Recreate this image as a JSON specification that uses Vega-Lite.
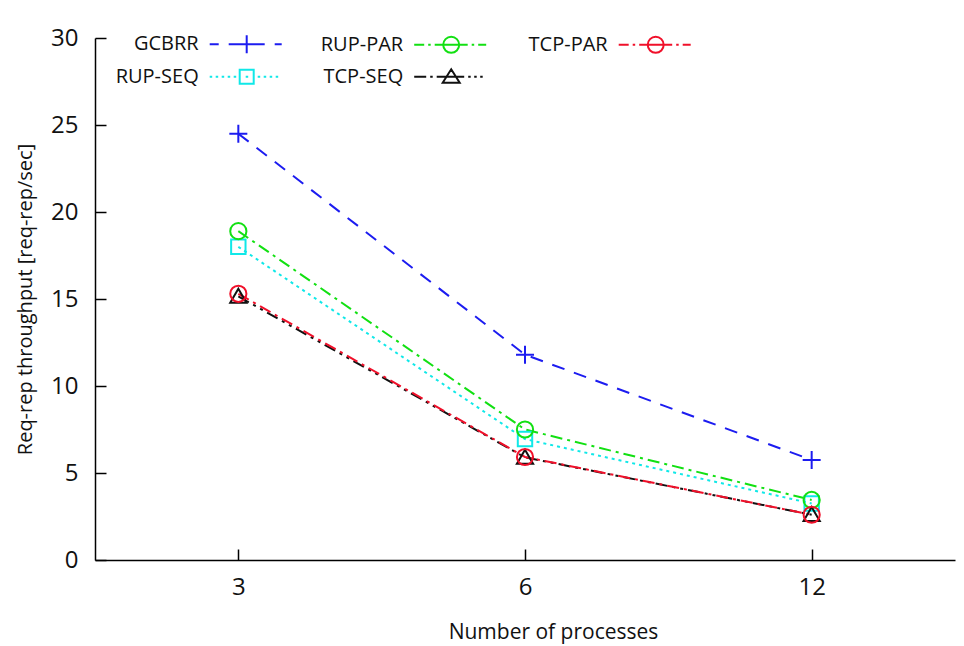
{
  "$schema": "https://vega.github.io/schema/vega-lite/v6.json",
  "width": 860,
  "height": 522,
  "autosize": {"type": "none"},
  "padding": {"left": 95, "top": 38, "right": 9, "bottom": 86},
  "background": "white",
  "config": {"view": {"stroke": null}, "font": "Open Sans"},
  "data": {
    "values": [
      {"series": "GCBRR", "procs": 3, "throughput": 24.5},
      {"series": "GCBRR", "procs": 6, "throughput": 11.8},
      {"series": "GCBRR", "procs": 12, "throughput": 5.75},
      {"series": "RUP-SEQ", "procs": 3, "throughput": 18.0},
      {"series": "RUP-SEQ", "procs": 6, "throughput": 6.95},
      {"series": "RUP-SEQ", "procs": 12, "throughput": 3.25},
      {"series": "RUP-PAR", "procs": 3, "throughput": 18.9},
      {"series": "RUP-PAR", "procs": 6, "throughput": 7.5},
      {"series": "RUP-PAR", "procs": 12, "throughput": 3.45},
      {"series": "TCP-SEQ", "procs": 3, "throughput": 15.15},
      {"series": "TCP-SEQ", "procs": 6, "throughput": 5.9},
      {"series": "TCP-SEQ", "procs": 12, "throughput": 2.6},
      {"series": "TCP-PAR", "procs": 3, "throughput": 15.3},
      {"series": "TCP-PAR", "procs": 6, "throughput": 5.92},
      {"series": "TCP-PAR", "procs": 12, "throughput": 2.6}
    ]
  },
  "encoding": {
    "x": {
      "field": "procs",
      "type": "ordinal",
      "sort": [3, 6, 12],
      "scale": {"type": "point", "padding": 0.5},
      "axis": {
        "title": "Number of processes",
        "labelAngle": 0,
        "labelFont": "Open Sans",
        "labelFontSize": 24,
        "labelColor": "#111111",
        "labelPadding": 26,
        "tickSize": -11,
        "tickColor": "#000000",
        "tickWidth": 1.5,
        "domainColor": "#000000",
        "domainWidth": 1.5,
        "grid": false,
        "titleFont": "Open Sans",
        "titleFontSize": 21,
        "titleFontWeight": "normal",
        "titleColor": "#111111",
        "titleX": 458,
        "titleY": 78,
        "titleAlign": "center",
        "titleBaseline": "alphabetic"
      }
    },
    "y": {
      "field": "throughput",
      "type": "quantitative",
      "scale": {"domain": [0, 30]},
      "axis": {
        "title": "Req-rep throughput [req-rep/sec]",
        "values": [0, 5, 10, 15, 20, 25, 30],
        "labelFont": "Open Sans",
        "labelFontSize": 24,
        "labelColor": "#111111",
        "labelPadding": 28,
        "tickSize": -11,
        "tickColor": "#000000",
        "tickWidth": 1.5,
        "domainColor": "#000000",
        "domainWidth": 1.5,
        "grid": false,
        "titleFont": "Open Sans",
        "titleFontSize": 20,
        "titleFontWeight": "normal",
        "titleColor": "#111111",
        "titleAngle": -90,
        "titleX": -64,
        "titleY": 261,
        "titleAlign": "center",
        "titleBaseline": "alphabetic"
      }
    }
  },
  "layer": [
    {
      "mark": {"type": "line", "strokeWidth": 2},
      "encoding": {
        "color": {
          "field": "series",
          "type": "nominal",
          "scale": {
            "domain": ["GCBRR", "RUP-SEQ", "RUP-PAR", "TCP-SEQ", "TCP-PAR"],
            "range": ["#1c1cf0", "#10e8e8", "#12e012", "#111111", "#f0102a"]
          },
          "legend": null
        },
        "strokeDash": {
          "field": "series",
          "type": "nominal",
          "scale": {
            "domain": ["GCBRR", "RUP-SEQ", "RUP-PAR", "TCP-SEQ", "TCP-PAR"],
            "range": [[13, 10], [3, 4], [12, 5, 3, 5], [12, 5, 3, 5, 3, 5], [12, 5, 3, 5]]
          },
          "legend": null
        }
      }
    },
    {
      "mark": {"type": "point", "filled": false, "strokeWidth": 2, "size": 324, "opacity": 1},
      "encoding": {
        "color": {
          "field": "series",
          "type": "nominal",
          "scale": {
            "domain": ["GCBRR", "RUP-SEQ", "RUP-PAR", "TCP-SEQ", "TCP-PAR"],
            "range": ["#1c1cf0", "#10e8e8", "#12e012", "#111111", "#f0102a"]
          },
          "legend": null
        },
        "shape": {
          "field": "series",
          "type": "nominal",
          "scale": {
            "domain": ["GCBRR", "RUP-SEQ", "RUP-PAR", "TCP-SEQ", "TCP-PAR"],
            "range": [
              "M-1,0H1M0,-1V1",
              "M-0.8,-0.8H0.8V0.8H-0.8Z",
              "M-0.9,0A0.9,0.9 0 1,0 0.9,0A0.9,0.9 0 1,0 -0.9,0Z",
              "M0,-0.85L0.9,0.7H-0.9Z",
              "M-0.9,0A0.9,0.9 0 1,0 0.9,0A0.9,0.9 0 1,0 -0.9,0Z"
            ]
          },
          "legend": null
        }
      }
    },
    {
      "mark": {"type": "point", "filled": false, "strokeWidth": 2, "opacity": 0},
      "encoding": {
        "color": {
          "field": "series",
          "type": "nominal",
          "scale": {
            "domain": ["GCBRR", "RUP-SEQ", "RUP-PAR", "TCP-SEQ", "TCP-PAR"],
            "range": ["#1c1cf0", "#10e8e8", "#12e012", "#111111", "#f0102a"]
          },
          "legend": {
            "title": null,
            "orient": "none",
            "legendX": 11.7,
            "legendY": -4.7,
            "padding": 0,
            "columns": 3,
            "columnPadding": 25.5,
            "rowPadding": 7.5,
            "gridAlign": "all",
            "symbolSize": 400,
            "symbolStrokeWidth": 2,
            "symbolOpacity": 1,
            "labelAlign": "right",
            "labelOffset": 70,
            "labelFont": "Open Sans",
            "labelFontSize": 20,
            "labelColor": "#111111",
            "labelLimit": 200
          }
        },
        "shape": {
          "field": "series",
          "type": "nominal",
          "scale": {
            "domain": ["GCBRR", "RUP-SEQ", "RUP-PAR", "TCP-SEQ", "TCP-PAR"],
            "range": [
              "M9.2,0H10.1M11.1,0H14.7M15.7,0H16.4M12.9,-0.9V0.9",
              "M9.2,0h0.25M9.8,0h0.25M10.4,0h0.25M11,0h0.25M11.6,0h0.25M12.2,-0.7H13.6V0.7H12.2ZM12.8,0h0.25M14,0h0.25M14.6,0h0.25M15.2,0h0.25M15.8,0h0.25",
              "M9.2,0H10.2M10.6,0H10.85M11.25,0H14.55M14.95,0H15.2M15.6,0H16.4M12.1,0A0.8,0.8 0 1,0 13.7,0A0.8,0.8 0 1,0 12.1,0Z",
              "M9.2,0H10.4M10.8,0H11.05M11.45,0H14.2M14.6,0h0.25M15.2,0h0.25M15.8,0h0.25M12.9,-0.75L13.75,0.6H12.05Z",
              "M9.2,0H10.2M10.6,0H10.85M11.25,0H14.55M14.95,0H15.2M15.6,0H16.4M12.1,0A0.8,0.8 0 1,0 13.7,0A0.8,0.8 0 1,0 12.1,0Z"
            ]
          },
          "legend": {
            "title": null,
            "orient": "none",
            "legendX": 11.7,
            "legendY": -4.7,
            "padding": 0,
            "columns": 3,
            "columnPadding": 25.5,
            "rowPadding": 7.5,
            "gridAlign": "all",
            "symbolSize": 400,
            "symbolStrokeWidth": 2,
            "symbolOpacity": 1,
            "labelAlign": "right",
            "labelOffset": 70,
            "labelFont": "Open Sans",
            "labelFontSize": 20,
            "labelColor": "#111111",
            "labelLimit": 200
          }
        }
      }
    }
  ],
  "resolve": {"scale": {"color": "independent", "shape": "independent"}}
}
